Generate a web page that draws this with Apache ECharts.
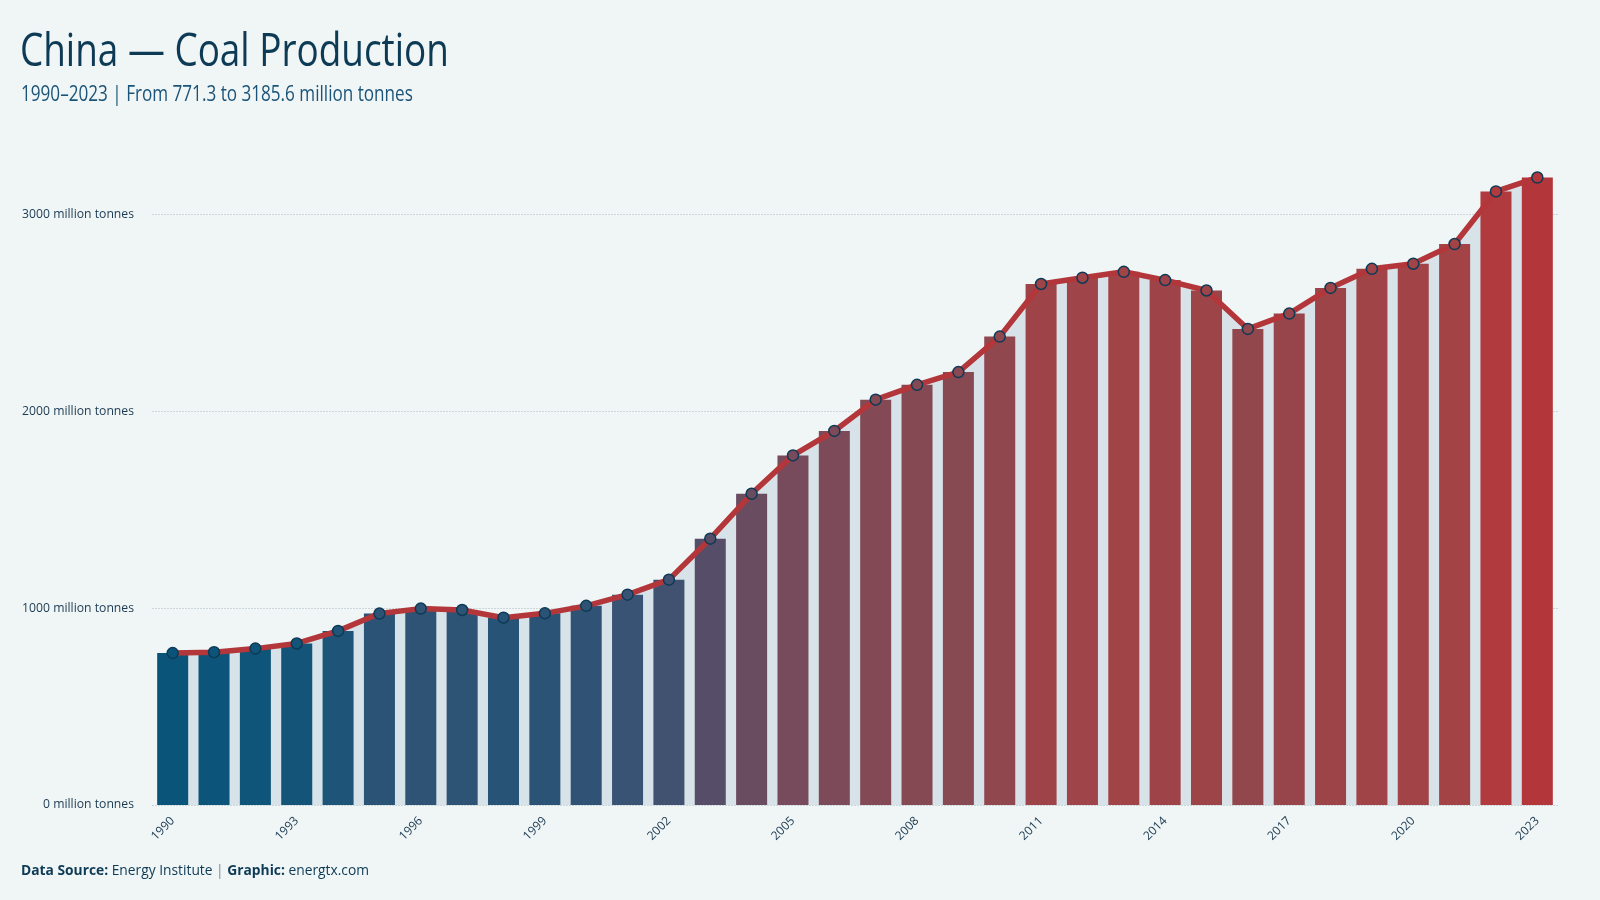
<!DOCTYPE html>
<html>
<head>
<meta charset="utf-8">
<script src="https://cdn.jsdelivr.net/npm/echarts@6/dist/echarts.min.js"></script>
<style>
  html, body { margin: 0; padding: 0; background: #f0f5f5; }
  #chart { width: 1600px; height: 900px; }
</style>
</head>
<body>
<div id="chart"></div>
<script>
// coal production, million tonnes
const years = ['1990', '1991', '1992', '1993', '1994', '1995', '1996', '1997', '1998', '1999',
  '2000', '2001', '2002', '2003', '2004', '2005', '2006', '2007', '2008', '2009',
  '2010', '2011', '2012', '2013', '2014', '2015', '2016', '2017', '2018', '2019',
  '2020', '2021', '2022', '2023']
const production = [771.3, 776, 794, 820, 884, 972, 997, 990, 951, 973,
  1011, 1068, 1144, 1352, 1580, 1775, 1899, 2058, 2133, 2198,
  2378, 2645, 2677, 2707, 2665, 2612, 2417, 2495, 2625, 2722,
  2748, 2848, 3115, 3185.6]
const yTicks = [0, 1000, 2000, 3000]

const font = "'Open Sans', 'Noto Sans', sans-serif"
const dark = '#0d3a55'

const option = {
  backgroundColor: '#f0f5f5',
  graphic: [
    {
      // condensed look: squeeze the title horizontally
      type: 'text',
      x: 20,
      y: 31,
      scaleX: 0.82,
      style: {
        text: 'China — Coal Production',
        font: '45px ' + font,
        fill: dark,
        verticalAlign: 'top'
      }
    },
    {
      type: 'text',
      x: 21,
      y: 85,
      scaleX: 0.815,
      style: {
        text: '1990–2023 | From 771.3 to 3185.6 million tonnes',
        font: '21px ' + font,
        fill: '#1b5478',
        verticalAlign: 'top'
      }
    },
    {
      type: 'text',
      x: 21,
      y: 864,
      style: {
        text: '{b|Data Source:} Energy Institute {s||} {b|Graphic:} energtx.com',
        font: '13.8px ' + font,
        fill: dark,
        rich: {
          b: { fontWeight: 'bold', fontSize: 13.8, fontFamily: font, fill: dark },
          s: { fontSize: 13.8, fontFamily: font, fill: '#7a8c99' }
        }
      }
    }
  ],
  grid: {
    left: 152,
    right: 42,
    top: 155,
    bottom: 95,
    containLabel: false,
    outerBoundsMode: 'none'
  },
  visualMap: {
    show: false,
    type: 'continuous',
    seriesIndex: [1, 2],
    min: 771.3,
    max: 3185.6,
    inRange: {
      color: ['#0b5479', '#3a5374', '#584d67', '#724b5e', '#804a56', '#8a4951', '#9c4449', '#a54345', '#b3373a']
    }
  },
  xAxis: {
    type: 'category',
    data: years,
    axisLine: { show: false },
    axisTick: { show: false },
    axisLabel: {
      interval: 2,
      rotate: 45,
      margin: 14,
      fontSize: 12,
      fontFamily: font,
      color: '#1b3a52'
    }
  },
  yAxis: {
    type: 'value',
    min: yTicks[0],
    max: 3300,
    interval: 1000,
    axisLine: { show: false },
    axisTick: { show: false },
    axisLabel: {
      showMaxLabel: false,
      margin: 18,
      fontSize: 12.2,
      fontFamily: font,
      color: '#1b3a52',
      formatter: v => (yTicks.includes(v) ? v + ' million tonnes' : '')
    },
    splitLine: {
      showMaxLine: false,
      lineStyle: { color: '#cbd7da', type: [2, 1], width: 1 }
    }
  },
  series: [
    {
      name: 'area',
      type: 'line',
      data: production,
      z: 1,
      silent: true,
      symbol: 'none',
      lineStyle: { width: 0 },
      areaStyle: { color: '#d7e3e8', opacity: 1 }
    },
    {
      name: 'bars',
      type: 'bar',
      data: production,
      z: 2,
      barCategoryGap: '25%'
    },
    {
      name: 'line',
      type: 'line',
      data: production,
      z: 3,
      symbol: 'circle',
      symbolSize: 11,
      lineStyle: { color: '#b3373a', width: 5.5 },
      itemStyle: { borderColor: dark, borderWidth: 1.5 }
    }
  ]
}

const myChart = echarts.init(document.getElementById('chart'))
myChart.setOption(option)
</script>
</body>
</html>
